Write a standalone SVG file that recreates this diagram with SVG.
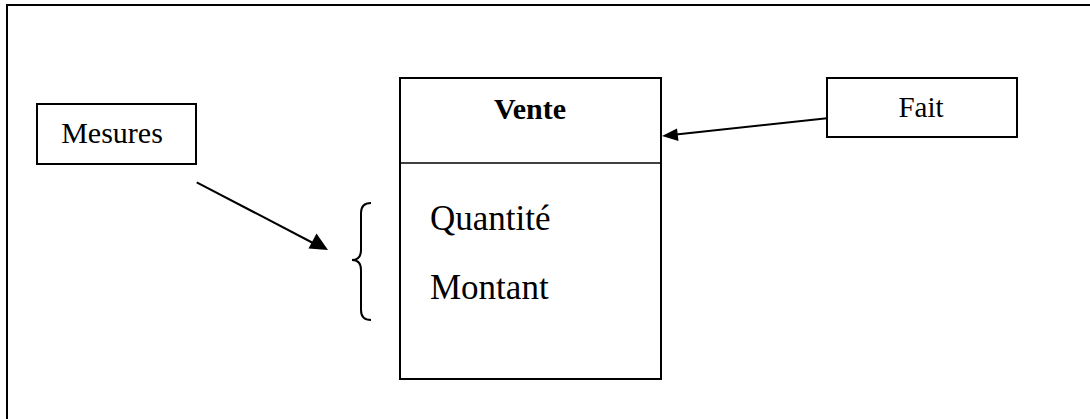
<svg xmlns="http://www.w3.org/2000/svg" width="1090" height="419" viewBox="0 0 1090 419">
  <style>
    .box { fill: #fff; stroke: #000; stroke-width: 2; }
    .lbl { font-family: "Liberation Serif", "Times New Roman", serif; fill: #000; }
    .conn { stroke: #000; stroke-width: 2; fill: none; }
  </style>
  <defs>
    <marker id="arr" viewBox="0 0 10 10" refX="10" refY="5" markerWidth="6" markerHeight="6" markerUnits="userSpaceOnUse" orient="auto">
      <path d="M0,0 L10,5 L0,10 z" fill="#000"/>
    </marker>
    <marker id="arrBig" viewBox="0 0 10 10" refX="10" refY="5" markerWidth="8" markerHeight="8" orient="auto">
      <path d="M0,0 L10,5 L0,10 z" fill="#000"/>
    </marker>
  </defs>
  <rect x="0" y="0" width="1090" height="419" fill="#fff"/>
  <rect id="frame" x="7" y="5" width="1100" height="440" fill="none" stroke="#000" stroke-width="2"/>

  <g id="mesures">
    <rect class="box" x="37" y="104" width="159" height="60"/>
    <text class="lbl" x="112" y="143" font-size="30" text-anchor="middle">Mesures</text>
  </g>

  <g id="vente">
    <rect class="box" x="400" y="78" width="261" height="301"/>
    <line x1="400" y1="163" x2="661" y2="163" stroke="#000" stroke-width="1.5"/>
    <text class="lbl" x="530" y="119" font-size="30" font-weight="bold" text-anchor="middle">Vente</text>
    <text class="lbl" x="430" y="230" font-size="35">Quantité</text>
    <text class="lbl" x="430" y="299" font-size="35">Montant</text>
  </g>

  <g id="fait">
    <rect class="box" x="827" y="78" width="190" height="59"/>
    <text class="lbl" x="921" y="117" font-size="29" text-anchor="middle">Fait</text>
  </g>

  <g id="brace">
    <path class="conn" stroke-width="1.5" d="M371,203 Q361,203 361,213 L361,250 Q361,260 352,260 Q361,260 361,270 L361,310 Q361,320 371,320"/>
  </g>

  <g id="connectors">
    <path class="conn" d="M196.7,182.3 L313,243" />
    <path d="M328,250 L308.5,248.5 L316.5,233.5 z" fill="#000"/>
    <path class="conn" d="M827,118.3 L676,134.5"/>
    <path d="M662,136 L677,128.5 L678.5,141 z" fill="#000"/>
  </g>
</svg>
